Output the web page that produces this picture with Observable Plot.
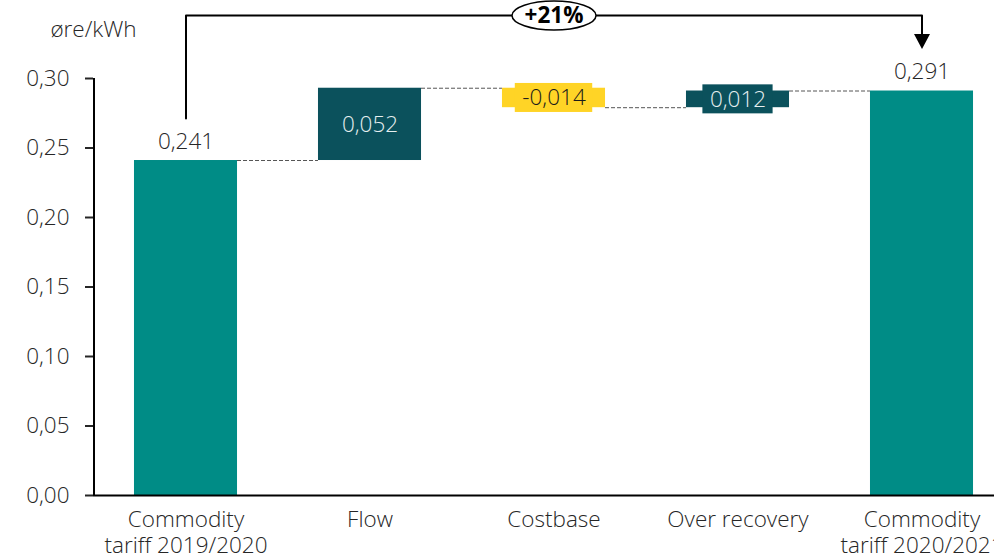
<!DOCTYPE html>
<html><head><meta charset="utf-8">
<script src="https://cdn.jsdelivr.net/npm/d3@7"></script>
<script src="https://cdn.jsdelivr.net/npm/@observablehq/plot@0.6"></script>
<style>body{margin:0;background:#fff} svg{display:block}</style>
</head><body><div id="chart"></div>
<script>
const categories = ["Commodity\ntariff 2019/2020", "Flow", "Costbase", "Over recovery", "Commodity\ntariff 2020/2021"];
const values = [0.241, 0.052, -0.014, 0.012, 0.291];
const kinds = ["total", "increase", "decrease", "increase", "total"];
const yTicks = [0, 0.05, 0.10, 0.15, 0.20, 0.25, 0.30];
const changeLabel = "+21%";
const unitLabel = "øre/kWh";

const W = 994, H = 557, mL = 93, mT = 78, mB = 62;
const yMax = 0.30;
const PX = (H - mT - mB) / yMax;       // pixels per unit
const STEP = 184;                       // pixels per category
const HALF = 0.28;                      // bar half width in category units
const FONT = "Open Sans, Lato, sans-serif";
const FS = 22.5;

const fill = {total: "#008C86", increase: "#0B515C", decrease: "#FFD426"};
const textFill = {total: "#262626", increase: "#E6EFF0", decrease: "#1a1a1a"};
const fmt = v => v.toFixed(3).replace(".", ",");

const ctx = document.createElement("canvas").getContext("2d");
ctx.font = `300 ${FS}px ${FONT}`;

let run = 0;
const bars = categories.map((c, i) => {
  let y1, y2;
  if (kinds[i] === "total") { y1 = 0; y2 = values[i]; }
  else { y1 = run; y2 = run + values[i]; }
  run = y2;
  const label = fmt(values[i]);
  return {i, c, v: values[i], kind: kinds[i], y1, y2, mid: (y1 + y2) / 2, label,
          tw: ctx.measureText(label).width};
});
const connectors = bars.slice(0, -1).map((b, k) => ({x1: b.i + HALF, x2: bars[k + 1].i - HALF, y: b.y2}));
const small = bars.filter(b => b.kind !== "total" && Math.abs(b.v) * PX < 30);
const boxes = small.map(b => ({x1: b.i - (b.tw + 14) / 2 / STEP, x2: b.i + (b.tw + 14) / 2 / STEP,
  y1: b.mid - 14.5 / PX, y2: b.mid + 14.5 / PX, kind: b.kind}));

const first = bars[0], last = bars[bars.length - 1];
const gap = 42 / PX;
const topV = yMax + 63 / PX;
const bracket = [
  {x: first.i, y: first.y2 + gap},
  {x: first.i, y: topV},
  {x: last.i, y: topV},
  {x: last.i, y: last.y2 + gap + 12 / PX}
];
const arrowDown = {draw(c) { c.moveTo(-8, -15); c.lineTo(8, -15); c.lineTo(0, 0); c.closePath(); }};
const ellipseSym = {draw(c) {
  const rx = 42, ry = 14.5, k = 0.5523;
  c.moveTo(rx, 0);
  c.bezierCurveTo(rx, k * ry, k * rx, ry, 0, ry);
  c.bezierCurveTo(-k * rx, ry, -rx, k * ry, -rx, 0);
  c.bezierCurveTo(-rx, -k * ry, -k * rx, -ry, 0, -ry);
  c.bezierCurveTo(k * rx, -ry, rx, -k * ry, rx, 0);
  c.closePath();
}};

const chart = Plot.plot({
  width: W, height: H,
  marginLeft: mL, marginTop: mT, marginBottom: mB, marginRight: 0,
  style: {fontFamily: FONT, fontSize: FS + "px", fontWeight: 300, color: "#262626", background: "#fff"},
  x: {domain: [-0.5, categories.length - 0.5], range: [mL + 0.5, mL + 0.5 + STEP * categories.length]},
  y: {domain: [0, yMax]},
  color: {type: "identity"},
  marks: [
    Plot.ruleY(connectors, {x1: "x1", x2: "x2", y: "y", stroke: "#555", strokeWidth: 1, strokeDasharray: "4,2"}),
    Plot.rectY(bars, {x1: d => d.i - HALF, x2: d => d.i + HALF, y1: "y1", y2: "y2", fill: d => fill[d.kind]}),
    Plot.rectY(boxes, {x1: "x1", x2: "x2", y1: "y1", y2: "y2", fill: d => fill[d.kind]}),
    Plot.ruleX([-0.5], {y1: 0, y2: yMax, stroke: "#000", strokeWidth: 2}),
    Plot.ruleY([0], {stroke: "#000", strokeWidth: 2}),
    Plot.axisY(yTicks, {tickSize: 8, tickPadding: 16, strokeWidth: 2, fontSize: FS, label: null,
      tickFormat: d => d.toFixed(2).replace(".", ",")}),
    Plot.axisX(bars.map(b => b.i), {tickSize: 0, tickPadding: 13, fontSize: FS, lineHeight: 1.16, label: null,
      tickFormat: i => categories[i]}),
    Plot.text(bars.filter(b => b.kind === "total"), {x: "i", y: "y2", text: "label", dy: -19, lineAnchor: "middle",
      fontSize: FS, fill: d => textFill[d.kind]}),
    Plot.text(bars.filter(b => b.kind !== "total"), {x: "i", y: "mid", text: "label", lineAnchor: "middle",
      fontSize: FS, fill: d => textFill[d.kind]}),
    Plot.line(bracket, {x: "x", y: "y", stroke: "#000", strokeWidth: 2}),
    Plot.dot([last], {x: "i", y: d => d.y2 + gap, symbol: arrowDown, fill: "#000", stroke: "none"}),
    Plot.dot([{x: (first.i + last.i) / 2, y: topV}], {x: "x", y: "y", symbol: ellipseSym, fill: "#fff", stroke: "#000", strokeWidth: 1.5}),
    Plot.text([changeLabel], {x: (first.i + last.i) / 2, y: topV, lineAnchor: "middle", fontSize: FS, fontWeight: "bold", fill: "#000"}),
    Plot.text([unitLabel], {frameAnchor: "top-left", dy: -49, textAnchor: "middle", lineAnchor: "middle", fontSize: FS, fill: "#262626"})
  ]
});
document.getElementById("chart").appendChild(chart);
</script>
</body></html>
